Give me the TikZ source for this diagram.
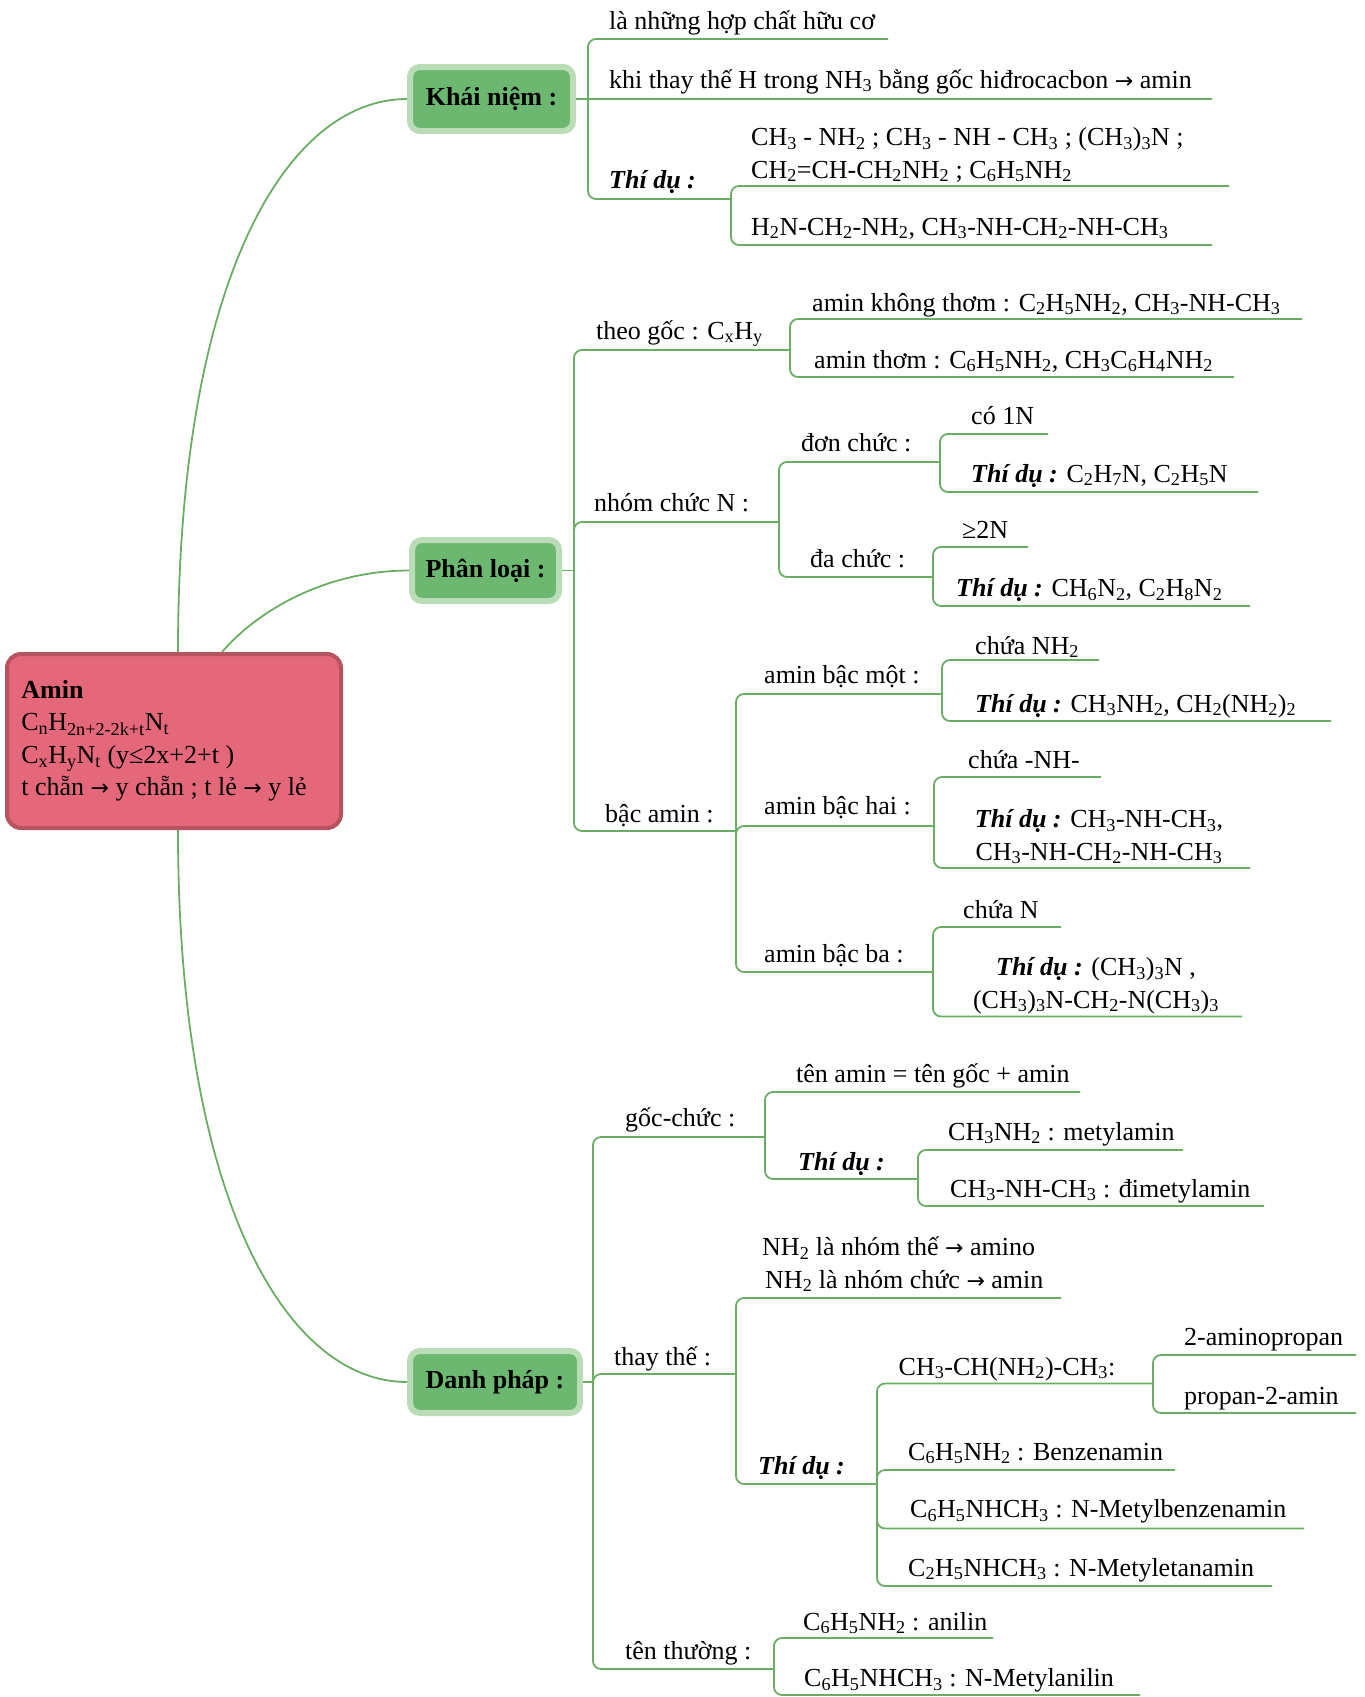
\documentclass[tikz,border=0pt]{standalone}
\usepackage{fontspec}
\setmainfont{Liberation Serif}
\newfontfamily\arrowfont{DejaVu Sans}
\usepackage[dvipsnames]{xcolor}
\definecolor{aminfill}{HTML}{E5687A}
\definecolor{aminline}{HTML}{B7525F}
\definecolor{boxfill}{HTML}{6DB870}
\definecolor{boxline}{HTML}{BADDB8}
\definecolor{lgreen}{HTML}{6AAE63}
\newcommand{\ix}[1]{\textsubscript{#1}}
\newcommand{\tidu}{\textbf{\textit{Thí dụ :}}}
\newcommand{\toarrow}{{\arrowfont\fontsize{22}{26}\selectfont →}}

\begin{document}
\begin{tikzpicture}[x=1pt,y=-1pt,
  main node/.style={draw=aminline,fill=aminfill,line width=4pt,rounded corners=14pt,minimum width=334pt,minimum height=174pt,inner xsep=10pt,align=left,font=\fontsize{26}{32.5}\selectfont},
  topic node/.style={draw=boxline,fill=boxfill,line width=6pt,rounded corners=10pt,inner sep=0pt,font=\bfseries\fontsize{26}{32}\selectfont},
  leaf node/.style={anchor=base west,inner sep=0pt,font=\fontsize{26}{32.5}\selectfont},
  link/.style={every edge/.style={draw=lgreen,line width=1.8pt,rounded corners=8pt,to path={|- (\tikztotarget) \tikztonodes}}},
  flat/.style={to path={-- (\tikztotarget) \tikztonodes}},
  curve/.style={draw=lgreen,line width=1.8pt}]
  \useasboundingbox (0,0) rectangle (1365,1697);

  \node[main node] (amin) at (174,741) {\textbf{Amin}\\ C\ix{n}H\ix{2n+2-2k+t}N\ix{t}\\ C\ix{x}H\ix{y}N\ix{t} (y≤2x+2+t )\\ t chẵn \toarrow{} y chẵn ; t lẻ \toarrow{} y lẻ\hspace*{20pt}};

  \node[topic node,minimum width=163pt,minimum height=64pt] (kn) at (491.5,99) {Khái niệm :};
  \node[topic node,minimum width=147pt,minimum height=61pt] (pl) at (485.5,570.5) {Phân loại :};
  \node[topic node,minimum width=170pt,minimum height=62pt] (dp) at (495,1382) {Danh pháp :};

  \draw[curve] ([xshift=4pt]amin.north) .. controls +(0,-374) and +(-120,0) .. (kn.west);
  \draw[curve] ([xshift=48pt]amin.north) .. controls +(38,-44) and +(-80,0) .. (pl.west);
  \draw[curve] ([xshift=4pt]amin.south) .. controls +(0,371) and +(-120,0) .. (dp.west);

  % Khai niem
  \coordinate (kn-j) at (588,99);
  \node[leaf node] (kn1) at (609,29) {là những hợp chất hữu cơ};
  \coordinate (kn1-e) at (888,39);
  \node[leaf node] (kn2) at (609,88) {khi thay thế H trong NH\ix{3} bằng gốc hiđrocacbon \toarrow{} amin};
  \coordinate (kn2-e) at (1212,99);
  \node[leaf node] (kn3) at (609,188) {\tidu};
  \coordinate (kn3-e) at (731,199);
  \node[leaf node,align=left] (kn31) at (751,178) {CH\ix{3} - NH\ix{2} ; CH\ix{3} - NH - CH\ix{3} ; (CH\ix{3})\ix{3}N ;\\ CH\ix{2}=CH-CH\ix{2}NH\ix{2} ; C\ix{6}H\ix{5}NH\ix{2}};
  \coordinate (kn31-e) at (1229,186);
  \node[leaf node] (kn32) at (751,235) {H\ix{2}N-CH\ix{2}-NH\ix{2}, CH\ix{3}-NH-CH\ix{2}-NH-CH\ix{3}};
  \coordinate (kn32-e) at (1212,245);

  % Phan loai
  \coordinate (pl-j) at (574,570.5);
  \node[leaf node] (pl1) at (596,339) {theo gốc : C\ix{x}H\ix{y}};
  \coordinate (pl1-e) at (790,350);
  \node[leaf node] (pl11) at (812,311) {amin không thơm : C\ix{2}H\ix{5}NH\ix{2}, CH\ix{3}-NH-CH\ix{3}};
  \coordinate (pl11-e) at (1302,319);
  \node[leaf node] (pl12) at (814,368) {amin thơm : C\ix{6}H\ix{5}NH\ix{2}, CH\ix{3}C\ix{6}H\ix{4}NH\ix{2}};
  \coordinate (pl12-e) at (1234,377);
  \node[leaf node] (pl2) at (594,511) {nhóm chức N :};
  \coordinate (pl2-e) at (779,522);
  \node[leaf node] (pl21) at (801,451) {đơn chức :};
  \coordinate (pl21-e) at (940,462);
  \node[leaf node] (pl211) at (971,424) {có 1N};
  \coordinate (pl211-e) at (1048,434);
  \node[leaf node] (pl212) at (971,482) {\tidu{} C\ix{2}H\ix{7}N, C\ix{2}H\ix{5}N};
  \coordinate (pl212-e) at (1258,492);
  \node[leaf node] (pl22) at (810,567) {đa chức :};
  \coordinate (pl22-e) at (933,577);
  \node[leaf node] (pl221) at (962,538) {≥2N};
  \coordinate (pl221-e) at (1028,547);
  \node[leaf node] (pl222) at (956,596.5) {\tidu{} CH\ix{6}N\ix{2}, C\ix{2}H\ix{8}N\ix{2}};
  \coordinate (pl222-e) at (1250,606);
  \node[leaf node] (pl3) at (605,822) {bậc amin :};
  \coordinate (pl3-e) at (736,831);
  \node[leaf node] (pl31) at (764,683) {amin bậc một :};
  \coordinate (pl31-e) at (942,694);
  \node[leaf node] (pl311) at (975,654) {chứa NH\ix{2}};
  \coordinate (pl311-e) at (1099,660);
  \node[leaf node] (pl312) at (975,712) {\tidu{} CH\ix{3}NH\ix{2}, CH\ix{2}(NH\ix{2})\ix{2}};
  \coordinate (pl312-e) at (1331,721);
  \node[leaf node] (pl32) at (764,814) {amin bậc hai :};
  \coordinate (pl32-e) at (934,826);
  \node[leaf node] (pl321) at (968,768.6) {chứa -NH-};
  \coordinate (pl321-e) at (1101,777);
  \node[leaf node,anchor=base,align=center] (pl322) at (1099,860) {\tidu{} CH\ix{3}-NH-CH\ix{3},\\ CH\ix{3}-NH-CH\ix{2}-NH-CH\ix{3}};
  \coordinate (pl322-e) at (1250,868);
  \node[leaf node] (pl33) at (764,962) {amin bậc ba :};
  \coordinate (pl33-e) at (933,972);
  \node[leaf node] (pl331) at (963,918) {chứa N};
  \coordinate (pl331-e) at (1061,927);
  \node[leaf node,anchor=base,align=center] (pl332) at (1096,1008) {\tidu{} (CH\ix{3})\ix{3}N ,\\ (CH\ix{3})\ix{3}N-CH\ix{2}-N(CH\ix{3})\ix{3}};
  \coordinate (pl332-e) at (1242,1016.5);

  % Danh phap
  \coordinate (dp-j) at (593,1382);
  \node[leaf node] (dp1) at (625,1126) {gốc-chức :};
  \coordinate (dp1-e) at (765,1137);
  \node[leaf node] (dp11) at (796,1082.5) {tên amin = tên gốc + amin};
  \coordinate (dp11-e) at (1080,1092);
  \node[leaf node] (dp12) at (798,1170) {\tidu};
  \coordinate (dp12-e) at (918,1179);
  \node[leaf node] (dp121) at (948,1140) {CH\ix{3}NH\ix{2} : metylamin};
  \coordinate (dp121-e) at (1183,1150);
  \node[leaf node] (dp122) at (950,1197) {CH\ix{3}-NH-CH\ix{3} : đimetylamin};
  \coordinate (dp122-e) at (1264,1206);
  \node[leaf node] (dp2) at (614,1365) {thay thế :};
  \coordinate (dp2-e) at (736,1374);
  \node[leaf node,align=left] (dp21) at (762,1288) {NH\ix{2} là nhóm thế \toarrow{} amino\\ \hspace{3pt}NH\ix{2} là nhóm chức \toarrow{} amin};
  \coordinate (dp21-e) at (1061,1298);
  \node[leaf node] (dp22) at (758,1474) {\tidu};
  \coordinate (dp22-e) at (877,1484);
  \node[leaf node] (dp221) at (898.5,1375) {CH\ix{3}-CH(NH\ix{2})-CH\ix{3}:};
  \coordinate (dp221-e) at (1153,1383.5);
  \node[leaf node] (dp2211) at (1184,1345.6) {2-aminopropan};
  \coordinate (dp2211-e) at (1356,1355);
  \node[leaf node] (dp2212) at (1184,1404) {propan-2-amin};
  \coordinate (dp2212-e) at (1356,1413);
  \node[leaf node] (dp222) at (908,1460) {C\ix{6}H\ix{5}NH\ix{2} : Benzenamin};
  \coordinate (dp222-e) at (1175,1470);
  \node[leaf node] (dp223) at (910,1517.7) {C\ix{6}H\ix{5}NHCH\ix{3} : N-Metylbenzenamin};
  \coordinate (dp223-e) at (1304,1528.5);
  \node[leaf node] (dp224) at (908,1576) {C\ix{2}H\ix{5}NHCH\ix{3} : N-Metyletanamin};
  \coordinate (dp224-e) at (1272,1586);
  \node[leaf node] (dp3) at (625,1659.5) {tên thường :};
  \coordinate (dp3-e) at (774,1669);
  \node[leaf node] (dp31) at (803,1630) {C\ix{6}H\ix{5}NH\ix{2} : anilin};
  \coordinate (dp31-e) at (993,1638);
  \node[leaf node] (dp32) at (804,1686.6) {C\ix{6}H\ix{5}NHCH\ix{3} : N-Metylanilin};
  \coordinate (dp32-e) at (1140,1695);

  \draw[curve] (kn.east) -- (kn-j);
  \draw[curve] (pl.east) -- (pl-j);
  \draw[curve] (dp.east) -- (dp-j);

  \path[link]
    (kn-j) edge (kn1-e) edge[flat] (kn2-e) edge (kn3-e)
    (kn3-e) edge (kn31-e) edge (kn32-e)
  ;
  \path[link]
    (pl-j) edge (pl1-e) edge (pl2-e) edge (pl3-e)
    (pl1-e) edge (pl11-e) edge (pl12-e)
    (pl2-e) edge (pl21-e) edge (pl22-e)
    (pl21-e) edge (pl211-e) edge (pl212-e)
    (pl22-e) edge (pl221-e) edge (pl222-e)
    (pl3-e) edge (pl31-e) edge (pl32-e) edge (pl33-e)
    (pl31-e) edge (pl311-e) edge (pl312-e)
    (pl32-e) edge (pl321-e) edge (pl322-e)
    (pl33-e) edge (pl331-e) edge (pl332-e)
  ;
  \path[link]
    (dp-j) edge (dp1-e) edge (dp2-e) edge (dp3-e)
    (dp1-e) edge (dp11-e) edge (dp12-e)
    (dp12-e) edge (dp121-e) edge (dp122-e)
    (dp2-e) edge (dp21-e) edge (dp22-e)
    (dp22-e) edge (dp221-e) edge (dp222-e) edge (dp223-e) edge (dp224-e)
    (dp221-e) edge (dp2211-e) edge (dp2212-e)
    (dp3-e) edge (dp31-e) edge (dp32-e)
  ;
\end{tikzpicture}
\end{document}
